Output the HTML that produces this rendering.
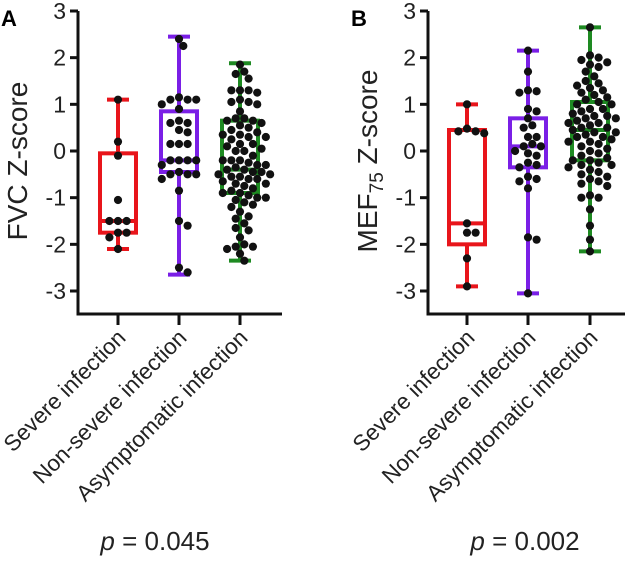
<!DOCTYPE html>
<html><head><meta charset="utf-8"><style>
body{margin:0;background:#fff}
svg{display:block;font-family:"Liberation Sans",Arial,sans-serif}
</style></head><body>
<svg id="fig" width="633" height="562" viewBox="0 0 633 562"></svg>
<script>
const categories=["Severe infection","Non-severe infection","Asymptomatic infection"];
const colors=["#e8151b","#7a1fe6","#1e8a22"];
const yTicks=[3,2,1,0,-1,-2,-3];
// panel A box stats: [min,q1,median,q3,max]
const boxA=[[-2.1,-1.75,-1.5,-0.05,1.1],[-2.65,-0.45,-0.2,0.85,2.45],[-2.35,-0.9,-0.4,0.65,1.88]];
const boxB=[[-2.9,-2.0,-1.55,0.45,1.0],[-3.05,-0.35,0.1,0.7,2.15],[-2.15,-0.2,0.45,1.05,2.65]];
const ptsA0=[1.1,0.2,-0.1,-1.05,-1.5,-1.5,-1.5,-1.75,-1.75,-1.85,-2.1];
const ptsA1=[2.4,2.25,1.15,1.1,1.1,1.1,1.0,0.9,0.65,0.6,0.6,0.45,0.4,0.15,0.15,0.15,-0.2,-0.2,-0.2,-0.2,-0.3,-0.45,-0.5,-0.5,-0.5,-0.6,-0.85,-1.5,-1.6,-2.5,-2.6];
const ptsA2=[1.85,1.7,1.65,1.55,1.3,1.3,1.25,1.3,1.1,1.05,1.05,1.0,0.85,0.7,0.7,0.65,0.65,0.6,0.55,0.4,0.35,0.35,0.3,0.3,0.15,0.15,0.1,0.05,0.0,-0.1,-0.2,-0.2,-0.25,-0.3,-0.35,-0.4,-0.4,-0.45,-0.5,-0.5,-0.55,-0.6,-0.6,-0.65,-0.7,-0.7,-0.75,-0.8,-0.85,-0.9,-0.9,-0.95,-1.0,-1.0,-1.05,-1.1,-1.15,-1.2,-1.3,-1.4,-1.45,-1.55,-1.65,-1.7,-1.85,-2.0,-2.05,-2.05,-2.1,-2.2,-2.35,0.5,0.45,-0.3,-0.45,-0.55,0.0,-0.2,0.25];
const ptsB0=[1.0,0.48,0.42,0.38,0.42,-1.55,-1.75,-1.75,-2.3,-2.9];
const ptsB1=[2.15,1.7,1.3,1.25,1.28,0.9,0.85,0.7,0.55,0.5,0.3,0.3,0.15,0.1,0.1,0.0,-0.05,-0.1,-0.25,-0.3,-0.35,-0.55,-0.6,-0.65,-0.8,-1.85,-1.9,-3.05];
const ptsB2=[2.65,2.05,2.0,1.95,1.9,1.8,1.7,1.6,1.5,1.45,1.4,1.3,1.25,1.2,1.1,1.05,1.0,1.0,0.9,0.85,0.8,0.75,0.7,0.7,0.65,0.6,0.55,0.5,0.5,0.45,0.4,0.35,0.3,0.3,0.25,0.2,0.15,0.1,0.05,0.0,-0.05,-0.1,-0.15,-0.2,-0.25,-0.3,-0.35,-0.4,-0.45,-0.5,-0.55,-0.6,-0.65,-0.7,-0.75,-0.95,-1.0,-1.0,-1.25,-1.6,-1.9,-2.15,0.9,1.15,0.6,-0.2,0.2,0.4,0.75,-0.3,1.35,1.85];
const NS="http://www.w3.org/2000/svg";
const svg=document.getElementById('fig');
function mk(tag,attrs,parent){const e=document.createElementNS(NS,tag);for(const k in attrs)e.setAttribute(k,attrs[k]);(parent||svg).appendChild(e);return e;}
function y(v){return 151-v*46.67;}
function swarm(vals,cx,r){
  const placed=[];const sorted=vals.slice().sort((a,b)=>b-a);
  sorted.forEach(v=>{const py=y(v);let k=0,px=cx;
    while(true){const off=(k===0?0:(k%2?1:-1)*Math.ceil(k/2)*r*1.05);px=cx+off;
      if(placed.every(p=>Math.hypot(p[0]-px,p[1]-py)>=2*r*0.92))break;k++;if(k>40)break;}
    placed.push([px,py]);});
  return placed;
}
function panel(id,ax,xs,xEnd,boxes,pts,title,sub,letter,pval,pcx){
  const g=mk('g',{});
  
  
  const L=mk('text',{x:ax-77,y:26,'font-size':22,'font-weight':'bold'},g);L.textContent=letter;
  
  
  const axis=mk('path',{d:`M${ax} ${y(3)} V314 H${xEnd}`,stroke:'#111','stroke-width':3,fill:'none'},g);
  
  
  yTicks.forEach(t=>{mk('line',{x1:ax-8,x2:ax,y1:y(t),y2:y(t),stroke:'#111','stroke-width':3},g);
    const tx=mk('text',{x:ax-12,y:y(t)+8,'font-size':23,'text-anchor':'end',fill:'#222'},g);tx.textContent=t;
    
    });
  const yt=mk('text',{transform:`translate(${ax-51},${y(0)+10}) rotate(-90)`,'font-size':28,'text-anchor':'middle',fill:'#222'},g);
  
  
  yt.innerHTML=sub?`MEF<tspan font-size="19" dy="6">75</tspan><tspan dy="-6"> Z-score</tspan>`:title;
  categories.forEach((c,i)=>{const cx=xs[i];const b=boxes[i];const col=colors[i];
    mk('line',{x1:cx,x2:cx,y1:314,y2:325,stroke:'#111','stroke-width':3},g);
    const lt=mk('text',{transform:`translate(${cx+9},${339}) rotate(-45)`,'font-size':22.5,'text-anchor':'end',fill:'#222'},g);lt.textContent=c;
    
    
    const bg=mk('g',{stroke:col,'stroke-width':4,fill:'none'},g);
    
    
    mk('line',{x1:cx,x2:cx,y1:y(b[4]),y2:y(b[0])},bg);
    mk('line',{x1:cx-11,x2:cx+11,y1:y(b[4]),y2:y(b[4])},bg);
    mk('line',{x1:cx-11,x2:cx+11,y1:y(b[0]),y2:y(b[0])},bg);
    mk('rect',{x:cx-18,y:y(b[3]),width:36,height:y(b[1])-y(b[3]),fill:'#fff'},bg);
    mk('line',{x1:cx-18,x2:cx+18,y1:y(b[2]),y2:y(b[2])},bg);
    swarm(pts[i],cx,4.1).forEach(p=>{const d=mk('circle',{cx:p[0],cy:p[1],r:4.1,fill:'#111'},g);
      
      });
  });
  const pt=mk('text',{x:pcx,y:550,'font-size':26,'text-anchor':'middle',fill:'#222'},g);
  pt.innerHTML='<tspan font-style="italic">p</tspan> = '+pval;
  
  
}
panel('a',78,[118,179,240],282,boxA,[ptsA0,ptsA1,ptsA2],'FVC Z-score',false,'A','0.045',155);
panel('b',428,[467,528,590],625,boxB,[ptsB0,ptsB1,ptsB2],'',true,'B','0.002',525);
</script>
</body></html>
